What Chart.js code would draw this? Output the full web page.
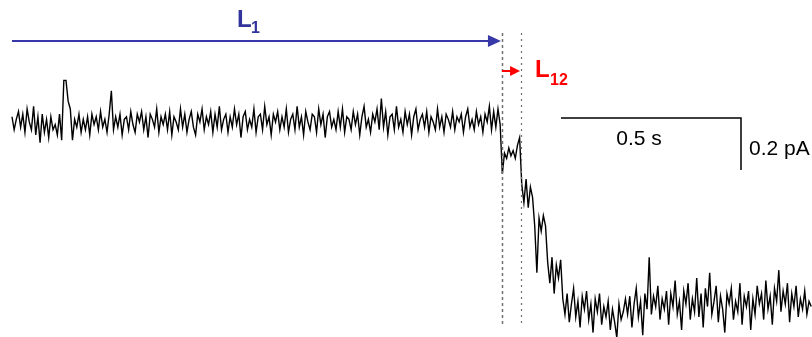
<!DOCTYPE html>
<html>
<head>
<meta charset="utf-8">
<script src="https://cdn.jsdelivr.net/npm/chart.js@4.4.0/dist/chart.umd.min.js"></script>
<style>
  html, body { margin: 0; padding: 0; background: #fff; }
  #wrap { width: 812px; height: 337px; position: relative; }
</style>
</head>
<body>
<div id="wrap"><canvas id="trace"></canvas></div>
<script>
// single-channel current trace, stepwise closing (pA), sample interval in s
const dt = 0.006;

// open level, before the first step
const baseline = [
  0.02,-0.03,0.01,0.04,-0.02,0.03,-0.04,0.05,0.00,-0.03,
  0.06,-0.05,0.02,-0.08,0.03,-0.04,0.01,-0.06,0.02,-0.03,
  -0.01,-0.05,0.03,-0.07,0.16,0.16,0.08,0.05,-0.07,0.01,
  -0.02,0.03,-0.04,0.01,-0.03,0.02,-0.05,0.03,-0.01,0.02,
  -0.03,0.04,-0.02,0.01,-0.04,0.03,0.12,-0.03,0.02,-0.02,
  0.03,-0.05,0.01,0.02,-0.03,0.04,-0.01,-0.04,0.03,0.00,
  0.04,-0.03,0.02,-0.06,0.03,0.01,-0.02,0.05,-0.04,0.02,
  -0.01,0.03,-0.03,0.04,-0.05,0.02,0.00,-0.03,0.05,-0.02,
  0.03,-0.04,0.01,0.04,-0.02,-0.05,0.03,0.00,0.05,-0.03,
  0.02,-0.01,0.04,-0.04,0.03,-0.02,0.06,-0.03,0.01,0.03,
  -0.04,0.02,-0.02,0.05,-0.01,0.03,-0.06,0.02,0.04,-0.03,
  0.01,-0.02,0.05,-0.04,0.02,0.03,-0.03,0.06,-0.01,0.02,
  -0.05,0.03,0.00,0.04,-0.03,0.02,-0.02,0.05,-0.04,0.01,
  0.03,-0.03,0.06,-0.02,0.02,-0.05,0.04,0.00,-0.03,0.03,
  0.02,-0.04,0.05,-0.01,0.03,-0.06,0.02,0.04,-0.02,0.01,
  -0.03,0.04,-0.02,0.05,-0.04,0.02,0.01,-0.03,0.04,-0.01,
  0.03,-0.05,0.02,0.06,-0.02,0.01,-0.04,0.03,0.00,0.05,
  -0.03,0.09,-0.02,0.04,-0.05,0.02,0.03,-0.03,0.06,-0.02,
  0.01,-0.04,0.04,-0.01,0.03,-0.05,0.02,0.05,-0.03,0.01,
  0.03,-0.02,0.04,-0.04,0.02,0.00,-0.03,0.05,-0.02,0.02,
  -0.04,0.03,0.01,-0.02,0.04,-0.03,0.02,0.00,0.03,-0.04,
  0.02,0.05,-0.02,0.01,-0.03,0.04,-0.01,0.02,-0.04,0.03,
  0.00,0.06,-0.03,0.04,-0.02,0.05,-0.01
];
// intermediate sublevels
const level1 = [-0.20,-0.12,-0.14,-0.10,-0.13,-0.11,-0.14,-0.09,-0.06];
const level2 = [-0.24,-0.31,-0.22,-0.33,-0.25,-0.29];
const level3 = [-0.40,-0.58,-0.37,-0.42,-0.36,-0.40];
const level4 = [-0.54,-0.62,-0.52,-0.66,-0.55,-0.60,-0.53];
// fully closed
const closed = [
  -0.68,-0.74,-0.66,-0.77,-0.70,-0.64,-0.75,-0.69,-0.79,-0.67,
  -0.72,-0.65,-0.76,-0.70,-0.81,-0.68,-0.73,-0.66,-0.78,-0.71,
  -0.75,-0.69,-0.80,-0.72,-0.77,-0.83,-0.70,-0.76,-0.73,-0.68,
  -0.74,-0.67,-0.79,-0.70,-0.64,-0.75,-0.69,-0.82,-0.66,-0.72,
  -0.52,
  -0.74,-0.67,-0.71,-0.63,-0.76,-0.68,-0.72,-0.65,-0.78,
  -0.66,-0.71,-0.61,-0.74,-0.69,-0.80,-0.65,-0.70,-0.62,-0.76,
  -0.68,-0.73,-0.60,-0.75,-0.66,-0.79,-0.64,-0.71,-0.58,-0.74,
  -0.69,-0.63,-0.77,-0.67,-0.72,-0.81,-0.66,-0.70,-0.64,-0.76,
  -0.69,-0.73,-0.62,-0.78,-0.67,-0.71,-0.65,-0.80,-0.68,-0.74,
  -0.63,-0.70,-0.66,-0.76,-0.61,-0.72,-0.67,-0.78,-0.64,-0.69,
  -0.57,-0.73,-0.65,-0.70,-0.62,-0.77,-0.66,-0.71,-0.63,-0.75,
  -0.68,-0.72,-0.65,-0.74,-0.69,-0.71
];

// markers (s) and scale bar
const tStep1 = 1.361;
const tStep2 = 1.414;
const scaleT = [1.525, 2.025];   // 0.5 s
const scaleI = [0.015, -0.185];  // 0.2 pA

const current = [].concat(baseline, level1, level2, level3, level4, closed);
const points = current.map((v, i) => ({ x: i * dt, y: v }));

// 注释层：箭头、虚线、标尺
const overlay = {
  id: 'overlay',
  afterDraw(chart) {
    const ctx = chart.ctx;
    const xs = chart.scales.x, ys = chart.scales.y;
    const px = t => xs.getPixelForValue(t);
    const py = v => ys.getPixelForValue(v);

    ctx.save();

    // dashed step markers
    ctx.strokeStyle = '#707070';
    ctx.lineWidth = 1.5;
    ctx.setLineDash([3, 3]);
    ctx.beginPath();
    ctx.moveTo(Math.round(px(tStep1)) + 0.5, py(0.342));
    ctx.lineTo(Math.round(px(tStep1)) + 0.5, py(-0.781));
    ctx.stroke();
    ctx.lineWidth = 1.2;
    ctx.setLineDash([2, 4]);
    ctx.beginPath();
    ctx.moveTo(Math.round(px(tStep2)) + 0.5, py(0.342));
    ctx.lineTo(Math.round(px(tStep2)) + 0.5, py(-0.781));
    ctx.stroke();
    ctx.setLineDash([]);

    function arrow(x0, x1, y, color, lw, headLen, headHalf) {
      ctx.strokeStyle = color;
      ctx.fillStyle = color;
      ctx.lineWidth = lw;
      ctx.beginPath();
      ctx.moveTo(x0, y);
      ctx.lineTo(x1 - headLen + 1, y);
      ctx.stroke();
      ctx.beginPath();
      ctx.moveTo(x1, y);
      ctx.lineTo(x1 - headLen, y - headHalf);
      ctx.lineTo(x1 - headLen, y + headHalf);
      ctx.closePath();
      ctx.fill();
    }
    arrow(px(0), px(tStep1) - 1, py(0.3115), '#3838a8', 2, 13, 6);
    arrow(px(tStep1), px(tStep2) - 1, py(0.196), '#ff0000', 2, 10, 5);

    // labels
    ctx.textBaseline = 'alphabetic';
    ctx.textAlign = 'left';
    ctx.fillStyle = '#33339c';
    ctx.font = 'bold 24px "Liberation Sans", Arial, sans-serif';
    ctx.fillText('L', 237, 27);
    ctx.font = 'bold 16px "Liberation Sans", Arial, sans-serif';
    ctx.fillText('1', 251, 33);
    ctx.fillStyle = '#ff0000';
    ctx.font = 'bold 24px "Liberation Sans", Arial, sans-serif';
    ctx.fillText('L', 535, 77);
    ctx.font = 'bold 16px "Liberation Sans", Arial, sans-serif';
    ctx.fillText('12', 550, 85);

    // scale bar
    ctx.strokeStyle = '#000';
    ctx.lineWidth = 1.5;
    ctx.beginPath();
    ctx.moveTo(px(scaleT[0]), py(scaleI[0]));
    ctx.lineTo(px(scaleT[1]), py(scaleI[0]));
    ctx.lineTo(px(scaleT[1]), py(scaleI[1]));
    ctx.stroke();
    ctx.fillStyle = '#000';
    ctx.font = '21px "Liberation Sans", Arial, sans-serif';
    ctx.textAlign = 'center';
    ctx.fillText('0.5 s', (px(scaleT[0]) + px(scaleT[1])) / 2 - 12, 145);
    ctx.textAlign = 'left';
    ctx.fillText('0.2 pA', px(scaleT[1]) + 8, 155);

    ctx.restore();
  }
};

new Chart(document.getElementById('trace'), {
  type: 'line',
  data: {
    datasets: [{
      data: points,
      borderColor: '#000',
      borderWidth: 1.4,
      pointRadius: 0,
      tension: 0,
      fill: false
    }]
  },
  options: {
    responsive: true,
    maintainAspectRatio: false,
    animation: false,
    layout: { padding: 0 },
    plugins: { legend: { display: false }, tooltip: { enabled: false } },
    scales: {
      x: { type: 'linear', min: -0.0333, max: 2.2222, display: false },
      y: { min: -0.827, max: 0.469, display: false }
    }
  },
  plugins: [overlay]
});
</script>
</body>
</html>
